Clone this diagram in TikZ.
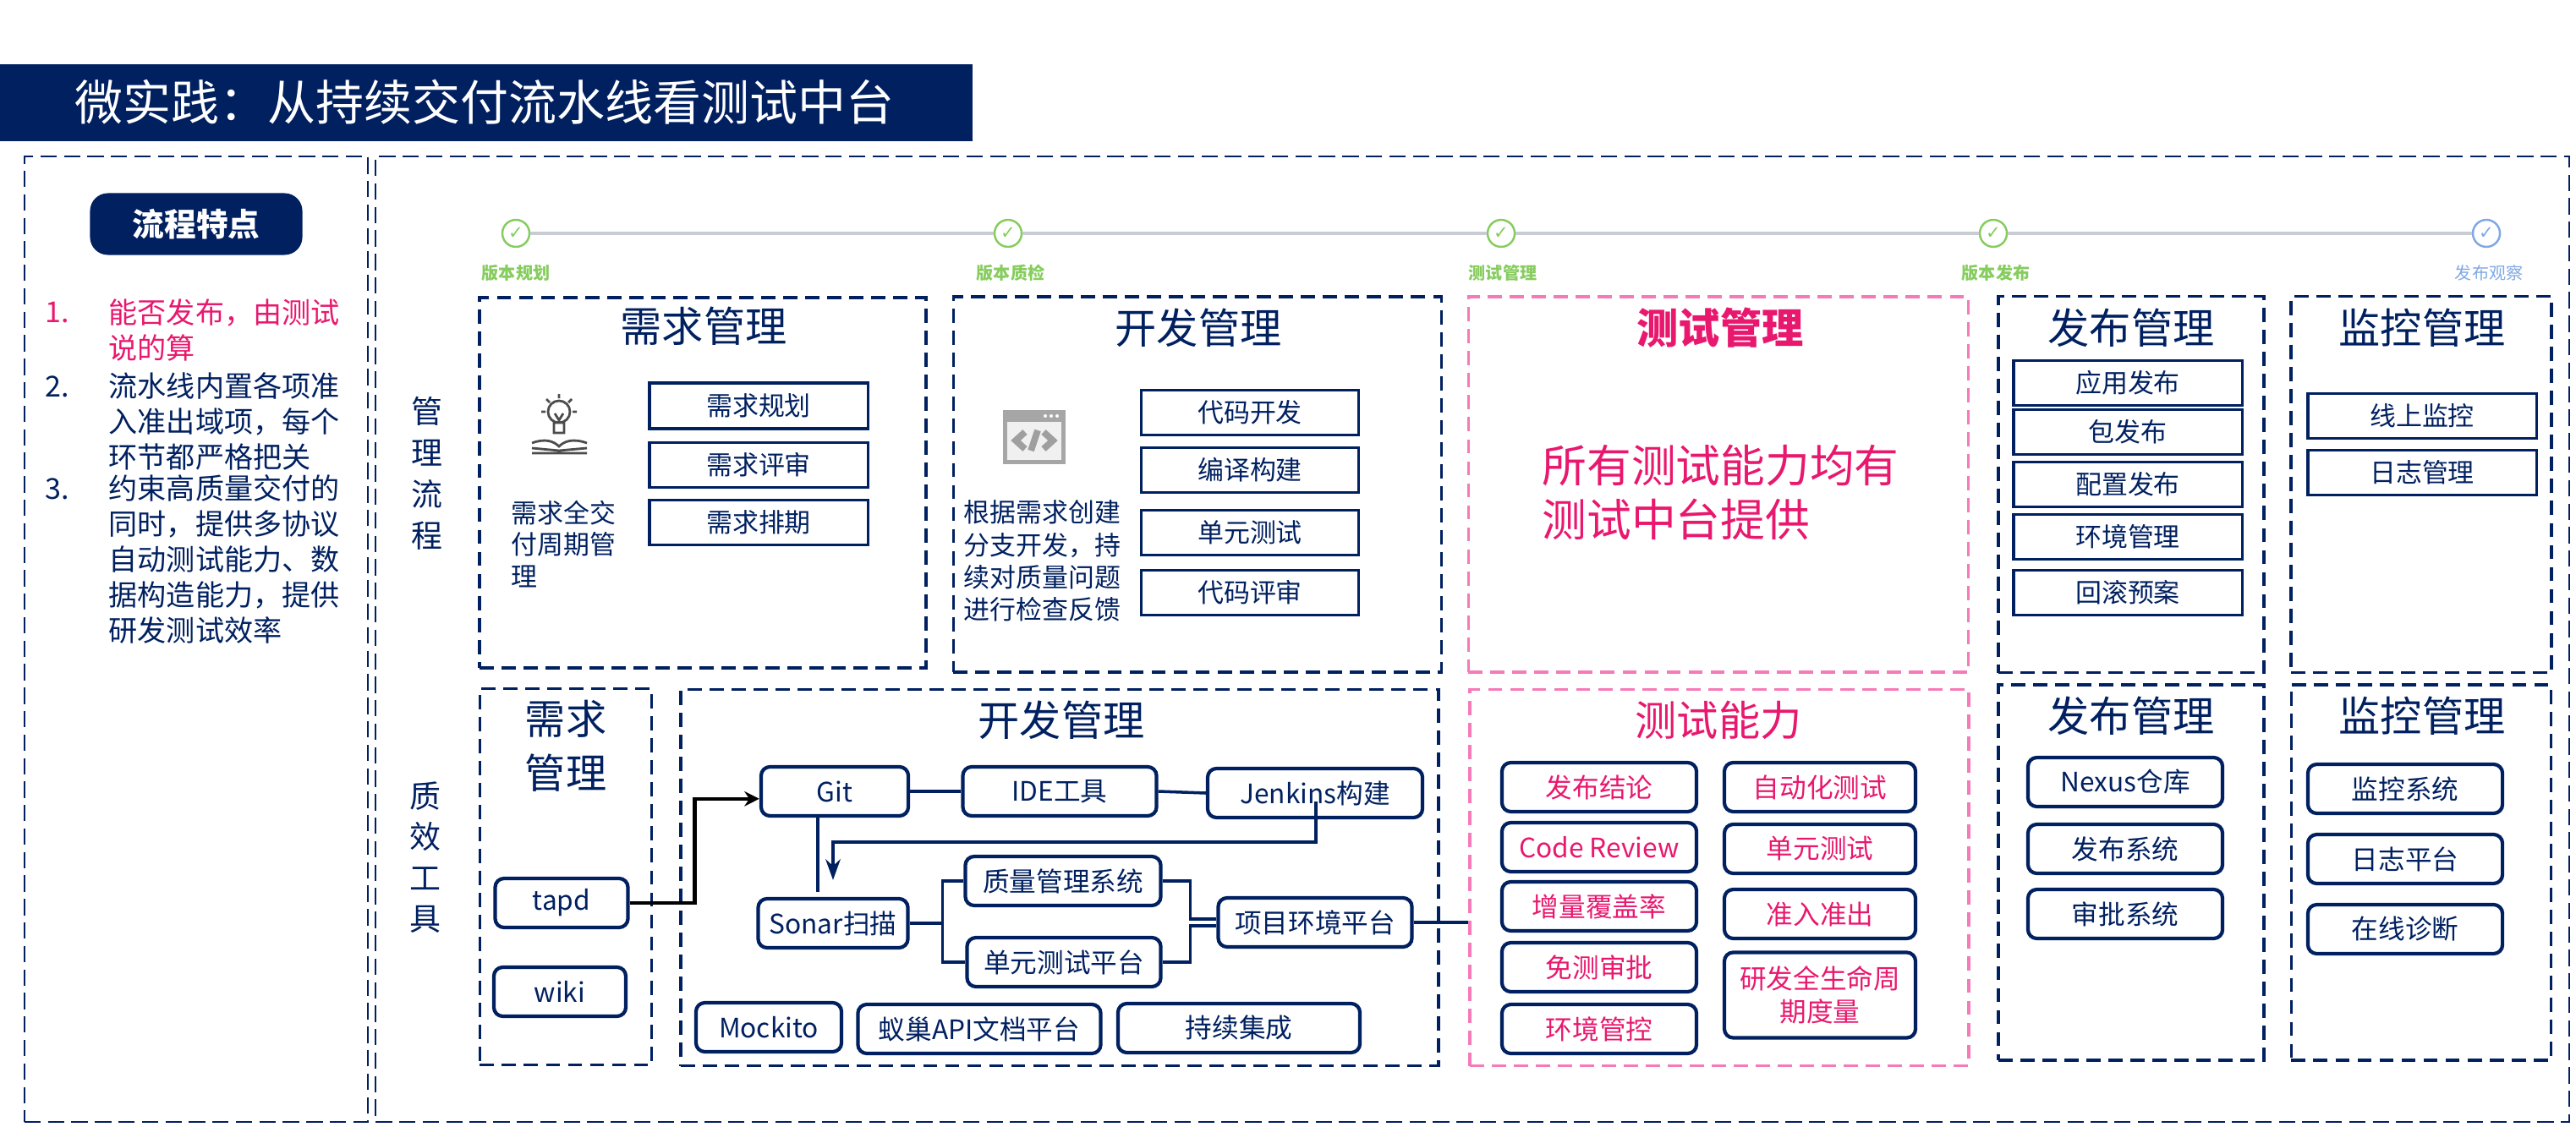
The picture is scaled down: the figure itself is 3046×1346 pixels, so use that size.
\documentclass[tikz,border=0pt]{standalone}
\usepackage{fontspec}
\setmainfont{Noto Sans CJK SC}
\newfontfamily\symfont{DejaVu Sans}
\usepackage{xcolor}
\usetikzlibrary{arrows.meta}
\definecolor{navy}{HTML}{002060}
\definecolor{hot}{HTML}{E8186E}
\definecolor{rose}{HTML}{F57AB8}
\definecolor{leaf}{HTML}{86CC5E}
\definecolor{sky}{HTML}{7FA8E4}
\definecolor{rail}{HTML}{C9CCD3}
\tikzset{
  frame/.style={draw=navy,line width=0.6pt,dash pattern=on 5.5pt off 2.4pt,inner sep=0pt},
  grp/.style={draw=navy,line width=1pt,dash pattern=on 4.8pt off 2.6pt,inner sep=0pt},
  grpp/.style={grp,draw=rose},
  ttl/.style={text=navy,font=\fontsize{14}{18}\selectfont},
  sq/.style={draw=navy,line width=0.9pt,text=navy,inner sep=0pt,minimum height=0.53cm,font=\fontsize{8.8}{10}\selectfont},
  tool/.style={sq,rounded corners=3pt,line width=1.2pt,minimum height=0.58cm,font=\fontsize{9}{11}\selectfont},
  ptool/.style={tool,text=hot},
  link/.style={draw=navy,line width=1pt},
  mile/.style={circle,draw=leaf,fill=white,line width=0.7pt,minimum size=0.32cm,inner sep=0pt,text=leaf,font=\symfont\fontsize{6}{6}\selectfont},
  stage/.style={text=leaf,font=\bfseries\fontsize{5.7}{6}\selectfont},
  para/.style={anchor=north west,inner sep=0pt,align=left,text=navy}
}
\begin{document}
\begin{tikzpicture}[x=0.01cm,y=-0.01cm]
\useasboundingbox (0,0) rectangle (3046,1346);
\fill[navy] (0,76) rectangle (1150,167);
\node[anchor=west,inner sep=0pt,text=white,font=\fontsize{16.2}{18}\selectfont] (head) at (88,121) {微实践：从持续交付流水线看测试中台};
\node[frame,minimum width=4.06cm,minimum height=11.42cm] (left) at (232,756) {};
\node[frame,minimum width=25.92cm,minimum height=11.42cm] (main) at (1741,756) {};
\node[fill=navy,rounded corners=6pt,text=white,font=\bfseries\fontsize{10.7}{12}\selectfont,minimum width=2.51cm,minimum height=0.73cm] (feat) at (232,265) {流程特点};
\node[anchor=west,inner sep=0pt,text=hot,font=\fontsize{9.7}{12}\selectfont] (n1) at (53,370) {1.};
\node[para,text=hot,font=\fontsize{9.7}{11.95}\selectfont] (t1) at (128,353) {能否发布，由测试\\说的算};
\node[anchor=west,inner sep=0pt,text=navy,font=\fontsize{9.7}{12}\selectfont] (n2) at (53,457) {2.};
\node[para,font=\fontsize{9.7}{11.95}\selectfont] (t2) at (128,440) {流水线内置各项准\\入准出域项，每个\\环节都严格把关};
\node[anchor=west,inner sep=0pt,text=navy,font=\fontsize{9.7}{12}\selectfont] (n3) at (53,578) {3.};
\node[para,font=\fontsize{9.7}{11.95}\selectfont] (t3) at (128,561) {约束高质量交付的\\同时，提供多协议\\自动测试能力、数\\据构造能力，提供\\研发测试效率};
\node[text=navy,align=center,font=\fontsize{10.5}{13.9}\selectfont] (lab1) at (505,560) {管\\理\\流\\程};
\node[text=navy,align=center,font=\fontsize{10.5}{13.7}\selectfont] (lab2) at (503,1014) {质\\效\\工\\具};

\node[mile] (m1) at (610,276) {✓};
\node[mile] (m2) at (1192,276) {✓};
\node[mile] (m3) at (1775,276) {✓};
\node[mile] (m4) at (2357,276) {✓};
\node[mile,draw=sky,text=sky] (m5) at (2940,276) {✓};
\draw[rail,line width=1.3pt] (m1) -- (m2) -- (m3) -- (m4) -- (m5);
\node[stage] (s1) at (610,323) {版本规划};
\node[stage] (s2) at (1195,323) {版本质检};
\node[stage] (s3) at (1777,323) {测试管理};
\node[stage] (s4) at (2360,323) {版本发布};
\node[stage,text=sky,font=\fontsize{5.7}{6}\selectfont] (s5) at (2943,323) {发布观察};

\node[grp,minimum width=5.28cm,minimum height=4.38cm] (reqA) at (831,571) {};
\node[ttl] (reqAt) at (832,386) {需求管理};
\draw[black!70,line width=0.8pt] (661,487) circle[radius=13] (655,500) rectangle (667,512) (656,489) -- (661,497) -- (666,489)
  (661,466) -- (661,471) (640,487) -- (645,487) (677,487) -- (682,487) (646,472) -- (650,476) (676,472) -- (672,476)
  (629,524) .. controls (645,518) and (655,522) .. (661,528) .. controls (667,522) and (677,518) .. (694,524)
  (629,530) -- (661,533) -- (694,530) (629,536) -- (694,536);
\node[para,font=\fontsize{8.8}{10.7}\selectfont] (reqTx) at (604,591) {需求全交\\付周期管\\理};
\node[sq,minimum width=2.58cm,minimum height=0.54cm] (r1) at (897,480) {需求规划};
\node[sq,minimum width=2.58cm] (r2) at (897,550) {需求评审};
\node[sq,minimum width=2.58cm] (r3) at (897,618) {需求排期};

\node[grp,minimum width=5.77cm,minimum height=4.44cm] (devA) at (1416,573) {};
\node[ttl] (devAt) at (1417,388) {开发管理};
\fill[gray!70] (1186,485) rectangle (1260,549);
\fill[gray!12] (1191,499) rectangle (1255,544);
\fill[white] (1236,492) circle[radius=2] (1243,492) circle[radius=2] (1250,492) circle[radius=2];
\draw[gray!75,line width=2.2pt] (1212,511) -- (1201,521) -- (1212,531) (1234,511) -- (1245,521) -- (1234,531) (1227,509) -- (1219,533);
\node[para,font=\fontsize{8.8}{10.9}\selectfont] (devTx) at (1139,591) {根据需求创建\\分支开发，持\\续对质量问题\\进行检查反馈};
\node[sq,minimum width=2.57cm] (d1) at (1478,488) {代码开发};
\node[sq,minimum width=2.57cm] (d2) at (1478,556) {编译构建};
\node[sq,minimum width=2.57cm] (d3) at (1478,630) {单元测试};
\node[sq,minimum width=2.57cm] (d4) at (1478,701) {代码评审};

\node[grpp,minimum width=5.91cm,minimum height=4.44cm] (tstA) at (2032,573) {};
\node[ttl,text=hot,font=\bfseries\fontsize{14}{18}\selectfont] (tstAt) at (2034,388) {测试管理};
\node[para,text=hot,font=\fontsize{15}{18.2}\selectfont] (allTx) at (1823,525) {所有测试能力均有\\测试中台提供};

\node[grp,minimum width=3.14cm,minimum height=4.45cm] (relA) at (2520,573) {};
\node[ttl] (relAt) at (2520,388) {发布管理};
\node[sq,minimum width=2.7cm] (p1) at (2516,453) {应用发布};
\node[sq,minimum width=2.7cm] (p2) at (2516,511) {包发布};
\node[sq,minimum width=2.7cm] (p3) at (2516,573) {配置发布};
\node[sq,minimum width=2.7cm] (p4) at (2516,635) {环境管理};
\node[sq,minimum width=2.7cm] (p5) at (2516,701) {回滚预案};

\node[grp,minimum width=3.08cm,minimum height=4.45cm] (monA) at (2863,573) {};
\node[ttl] (monAt) at (2864,388) {监控管理};
\node[sq,minimum width=2.7cm] (w1) at (2864,492) {线上监控};
\node[sq,minimum width=2.7cm] (w2) at (2864,559) {日志管理};

\node[grp,minimum width=2.03cm,minimum height=4.45cm] (reqB) at (669,1037) {};
\node[ttl,align=center,font=\fontsize{13.7}{18.2}\selectfont] (reqBt) at (669,882) {需求\\管理};
\node[tool,minimum width=1.57cm] (tapd) at (664,1068) {tapd};
\node[tool,minimum width=1.56cm] (wiki) at (662,1173) {wiki};

\node[grp,minimum width=8.95cm,minimum height=4.45cm] (devB) at (1253,1038) {};
\node[ttl] (devBt) at (1255,852) {开发管理};
\node[tool,minimum width=1.74cm] (git) at (987,936) {Git};
\node[tool,minimum width=2.29cm] (ide) at (1253,936) {IDE工具};
\node[tool,minimum width=2.54cm] (jen) at (1555,938) {Jenkins构建};
\node[tool,minimum width=1.77cm] (son) at (985,1092) {Sonar扫描};
\node[tool,minimum width=2.31cm] (qms) at (1257,1042) {质量管理系统};
\node[tool,minimum width=2.29cm] (utp) at (1258,1138) {单元测试平台};
\node[tool,minimum width=2.29cm] (prj) at (1555,1091) {项目环境平台};
\node[tool,minimum width=1.72cm] (mock) at (909,1215) {Mockito};
\node[tool,minimum width=2.87cm] (ant) at (1158,1217) {蚁巢API文档平台};
\node[tool,minimum width=2.86cm] (ci) at (1465,1216) {持续集成};

\node[grpp,minimum width=5.9cm,minimum height=4.45cm] (capB) at (2033,1038) {};
\node[ttl,text=hot] (capBt) at (2032,852) {测试能力};
\node[ptool,minimum width=2.3cm] (c1) at (1891,931) {发布结论};
\node[ptool,minimum width=2.3cm] (c2) at (1891,1002) {Code Review};
\node[ptool,minimum width=2.3cm] (c3) at (1891,1072) {增量覆盖率};
\node[ptool,minimum width=2.3cm] (c4) at (1891,1144) {免测审批};
\node[ptool,minimum width=2.3cm] (c5) at (1891,1217) {环境管控};
\node[ptool,minimum width=2.26cm] (c6) at (2152,931) {自动化测试};
\node[ptool,minimum width=2.26cm] (c7) at (2152,1004) {单元测试};
\node[ptool,minimum width=2.26cm] (c8) at (2152,1081) {准入准出};
\node[ptool,minimum width=2.26cm,minimum height=1.01cm,align=center] (c9) at (2152,1177) {研发全生命周\\期度量};

\node[grp,minimum width=3.14cm,minimum height=4.44cm] (relB) at (2520,1032) {};
\node[ttl] (relBt) at (2520,847) {发布管理};
\node[tool,minimum width=2.3cm] (nex) at (2513,925) {Nexus仓库};
\node[tool,minimum width=2.3cm] (pub) at (2513,1004) {发布系统};
\node[tool,minimum width=2.3cm] (apr) at (2513,1081) {审批系统};

\node[grp,minimum width=3.07cm,minimum height=4.44cm] (monB) at (2863,1032) {};
\node[ttl] (monBt) at (2864,847) {监控管理};
\node[tool,minimum width=2.3cm] (mon) at (2844,933) {监控系统};
\node[tool,minimum width=2.3cm] (log) at (2844,1016) {日志平台};
\node[tool,minimum width=2.3cm] (diag) at (2844,1099) {在线诊断};

\draw[line width=1.3pt,-{Stealth[length=5pt,width=5pt]}] (tapd.east) -- ++(77,0) |- ([yshift=-2.5pt]git.west);
\draw[link] (git) -- (ide);
\draw[link] (ide.east) -- (jen.west);
\draw[link] ([xshift=-0.2cm]git.south) -- ++(0,88);
\draw[link,-{Stealth[length=7pt,width=5pt]}] (jen.center) ++(1,10) -- ++(0,48) -| ([yshift=0.2cm]son.north);
\draw[link] (son.east) -- ++(39,0) |- (qms.west);
\draw[link] (son.east) ++(39,0) |- (utp.west);
\draw[link] (qms.east) -- ++(33,0) |- ([yshift=0.04cm]prj.west);
\draw[link] (utp.east) -- ++(33,0) |- ([yshift=-0.04cm]prj.west);
\draw[link] (prj.east) -- (prj.east -| capB.west);
\end{tikzpicture}
\end{document}
